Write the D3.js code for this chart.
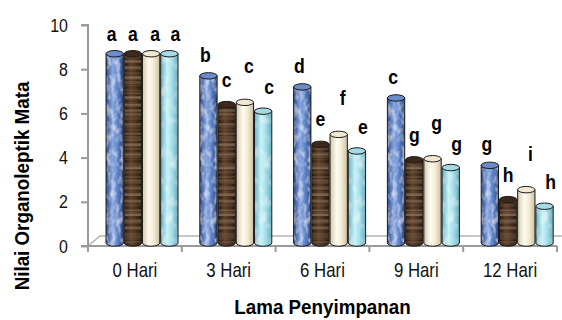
<!DOCTYPE html>
<html>
<head>
<meta charset="utf-8">
<script src="https://cdn.jsdelivr.net/npm/d3@7"></script>
<style>
  body { margin: 0; background: #fff; }
  svg { display: block; font-family: "Liberation Sans", Arial, sans-serif; }
</style>
</head>
<body>
<svg id="chart" width="562" height="320"></svg>
<script>
// data
const categories = ["0 Hari", "3 Hari", "6 Hari", "9 Hari", "12 Hari"];
const seriesKeys = ["s1", "s2", "s3", "s4"];
const s1Values = [8.7, 7.7, 7.2, 6.7, 3.65];
const s2Values = [8.7, 6.4, 4.6, 3.9, 2.1];
const s3Values = [8.7, 6.5, 5.05, 3.95, 2.55];
const s4Values = [8.7, 6.1, 4.3, 3.55, 1.8];
const s1Letters = ["a", "b", "d", "c", "g"];
const s2Letters = ["a", "c", "e", "g", "h"];
const s3Letters = ["a", "c", "f", "g", "i"];
const s4Letters = ["a", "c", "e", "g", "h"];
const yTicks = [0, 2, 4, 6, 8, 10];

const values = [s1Values, s2Values, s3Values, s4Values];
const letters = [s1Letters, s2Letters, s3Letters, s4Letters];

const rows = [];
categories.forEach((cat, i) => {
  seriesKeys.forEach((key, j) => {
    rows.push({ cat, key, si: j, value: values[j][i], letter: letters[j][i] });
  });
});

// styling per series
const styles = {
  s1: { stops: ["#2a4a88", "#86a6e0", "#5f86cc", "#28467f"], top: "#6a8cca", tex: "spots" },
  s2: { stops: ["#2a190e", "#5e402b", "#4a3322", "#26170d"], top: "#3e2919", tex: "wood" },
  s3: { stops: ["#d2c8ab", "#fffcf0", "#f5ecd4", "#cbc0a2"], top: "#f1e8cf", tex: null },
  s4: { stops: ["#68afc1", "#c8f2f7", "#a4dfe9", "#66aabd"], top: "#a3dbe6", tex: "spots2" },
};
const labelDx = [-3, 0, 4, 6];
const labelDy = [-14, -18, -29, -17];
const squeeze = 0.84; // the source font is condensed

const svg = d3.select("#chart");
const defs = svg.append("defs");

seriesKeys.forEach((key) => {
  const grad = defs.append("linearGradient").attr("id", `grad-${key}`)
    .attr("x1", "0%").attr("x2", "100%").attr("y1", "0%").attr("y2", "0%");
  const offs = [0, 0.38, 0.65, 1];
  styles[key].stops.forEach((c, k) => grad.append("stop").attr("offset", offs[k]).attr("stop-color", c));
});

function addTexture(id, freq, matrix, seed) {
  const f = defs.append("filter").attr("id", id)
    .attr("x", 0).attr("y", 0).attr("width", 1).attr("height", 1);
  f.append("feTurbulence").attr("type", "fractalNoise").attr("baseFrequency", freq)
    .attr("numOctaves", 2).attr("seed", seed).attr("result", "n");
  f.append("feColorMatrix").attr("in", "n").attr("type", "matrix").attr("values", matrix).attr("result", "spots");
  f.append("feComposite").attr("in", "spots").attr("in2", "SourceAlpha").attr("operator", "in").attr("result", "clip");
  const m = f.append("feMerge");
  m.append("feMergeNode").attr("in", "SourceGraphic");
  m.append("feMergeNode").attr("in", "clip");
}
addTexture("tex-spots", "0.2 0.12", "0 0 0 0 0.85  0 0 0 0 0.9  0 0 0 0 1  1.4 0 0 0 -0.6", 4);
addTexture("tex-spots2", "0.12 0.08", "0 0 0 0 1  0 0 0 0 1  0 0 0 0 1  1.2 0 0 0 -0.55", 7);
addTexture("tex-wood", "0.003 0.3", "0 0 0 0 0.55  0 0 0 0 0.38  0 0 0 0 0.24  0.9 0 0 0 -0.38", 2);

// scales
const left = 88, right = 557;
const y = d3.scaleLinear().domain([0, 10]).range([246, 25]);
const x = d3.scaleBand().domain(categories).range([left, right]);
const xs = d3.scaleBand().domain(seriesKeys).range([18, 90]).paddingInner(0.05);
const ry = 3.2;
const barBottom = y(0) - 3;

// floor
svg.append("path")
  .attr("d", `M${left},${y(0)} L${left + 12},${y(0) - 10} L${right + 5},${y(0) - 10}`)
  .attr("fill", "none").attr("stroke", "#b4b4b4").attr("stroke-width", 1.5);

// y axis
const yAxisG = svg.append("g").attr("transform", `translate(${left},0)`)
  .call(d3.axisLeft(y).tickValues(yTicks).tickSize(7).tickPadding(13));
yAxisG.select(".domain").attr("stroke", "#9a9a9a").attr("stroke-width", 2)
  .attr("d", `M-7,${y(10)}H0V${y(0)}H-7`);
yAxisG.selectAll(".tick line").attr("stroke", "#9a9a9a").attr("stroke-width", 2);
yAxisG.selectAll(".tick text").attr("font-size", 19).attr("fill", "#111")
  .attr("x", -20 / squeeze).attr("transform", `scale(${squeeze},1)`);

// x axis: labels centred, ticks on the band edges
const xAxisG = svg.append("g").attr("transform", `translate(0,${y(0)})`)
  .call(d3.axisBottom(x).tickSize(0).tickPadding(17));
xAxisG.select(".domain").attr("stroke", "#9a9a9a").attr("stroke-width", 2).attr("d", `M${left},0H${right}`);
xAxisG.selectAll(".tick text").attr("font-size", 20).attr("fill", "#111")
  .attr("transform", `scale(${squeeze},1)`);
xAxisG.selectAll(".edge").data(categories.map((c) => x(c)).concat([right]))
  .join("line").attr("class", "edge")
  .attr("x1", (d) => d).attr("x2", (d) => d).attr("y1", 0).attr("y2", 6)
  .attr("stroke", "#9a9a9a").attr("stroke-width", 2);

// cylinders
const bars = svg.append("g").selectAll("g.bar").data(rows).join("g").attr("class", "bar")
  .attr("transform", (d) => `translate(${x(d.cat) + xs(d.key)},0)`);

const bw = xs.bandwidth();
const bodyPath = (d) => {
  const t = y(d.value);
  return `M0,${t} L0,${barBottom} A${bw / 2},${ry} 0 0 0 ${bw},${barBottom} L${bw},${t} Z`;
};

bars.append("path").attr("d", bodyPath)
  .attr("fill", (d) => `url(#grad-${d.key})`)
  .attr("filter", (d) => (styles[d.key].tex ? `url(#tex-${styles[d.key].tex})` : null));
bars.append("path").attr("d", bodyPath)
  .attr("fill", "none").attr("stroke", "#1b1b1b").attr("stroke-width", 1);
bars.append("ellipse")
  .attr("cx", bw / 2).attr("cy", (d) => y(d.value))
  .attr("rx", bw / 2).attr("ry", ry)
  .attr("fill", (d) => styles[d.key].top)
  .attr("stroke", "#1b1b1b").attr("stroke-width", 1);

// significance letters
svg.append("g").selectAll("text").data(rows).join("text")
  .attr("transform", (d) => {
    const lx = x(d.cat) + xs(d.key) + bw / 2 + labelDx[d.si];
    const ly = Math.max(y(d.value) + labelDy[d.si], 41);
    return `translate(${lx},${ly}) scale(0.88,1)`;
  })
  .attr("text-anchor", "middle")
  .attr("font-size", 20).attr("font-weight", "bold").attr("fill", "#000")
  .text((d) => d.letter);

// axis titles
svg.append("text")
  .attr("transform", `translate(${(left + right) / 2},314) scale(0.94,1)`)
  .attr("text-anchor", "middle").attr("font-size", 20).attr("font-weight", "bold")
  .text("Lama Penyimpanan");

svg.append("text")
  .attr("transform", "translate(29,186) rotate(-90) scale(0.94,1)")
  .attr("text-anchor", "middle").attr("font-size", 20).attr("font-weight", "bold")
  .text("Nilai Organoleptik Mata");
</script>
</body>
</html>
